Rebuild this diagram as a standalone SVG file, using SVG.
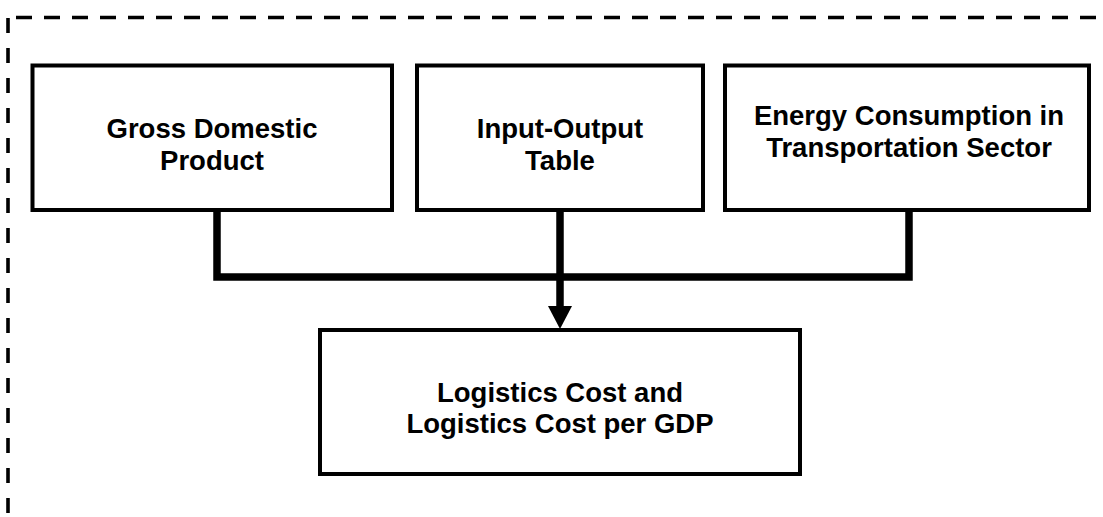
<svg xmlns="http://www.w3.org/2000/svg" width="1103" height="517" viewBox="0 0 1103 517">
<style>
.box{fill:#fff;stroke:#000;stroke-width:4}
.lbl{font-family:"Liberation Sans",Arial,sans-serif;font-weight:bold;font-size:27.5px;fill:#000;text-anchor:middle}
.dash{fill:none;stroke:#000;stroke-width:3.6}
.conn{fill:none;stroke:#000;stroke-width:7.5;stroke-linejoin:miter}
</style>
<rect width="1103" height="517" fill="#fff"/>
<g id="frame">
<line class="dash" x1="16" y1="17.5" x2="1103" y2="17.5" stroke-dasharray="16 12"/>
<line class="dash" x1="8" y1="18" x2="8" y2="517" stroke-dasharray="15 15"/>
</g>
<g id="connectors">
<path class="conn" d="M217,212 V277 H909 V212"/>
<line class="conn" x1="560" y1="212" x2="560" y2="308"/>
<polygon points="548,306 572,306 560,329" fill="#000"/>
</g>
<g id="gdp">
<rect class="box" x="32.5" y="65.5" width="359.5" height="144.5"/>
<text class="lbl" x="212" y="137.5">Gross Domestic</text>
<text class="lbl" x="212" y="170">Product</text>
</g>
<g id="io">
<rect class="box" x="417" y="65.5" width="286" height="144.5"/>
<text class="lbl" x="560" y="137.5">Input-Output</text>
<text class="lbl" x="560" y="169.5">Table</text>
</g>
<g id="energy">
<rect class="box" x="725" y="65.5" width="364" height="144.5"/>
<text class="lbl" x="909" y="125">Energy Consumption in</text>
<text class="lbl" x="909" y="157">Transportation Sector</text>
</g>
<g id="logistics">
<rect class="box" x="320" y="330" width="480" height="144"/>
<text class="lbl" x="560" y="401.5">Logistics Cost and</text>
<text class="lbl" x="560" y="433">Logistics Cost per GDP</text>
</g>
</svg>
